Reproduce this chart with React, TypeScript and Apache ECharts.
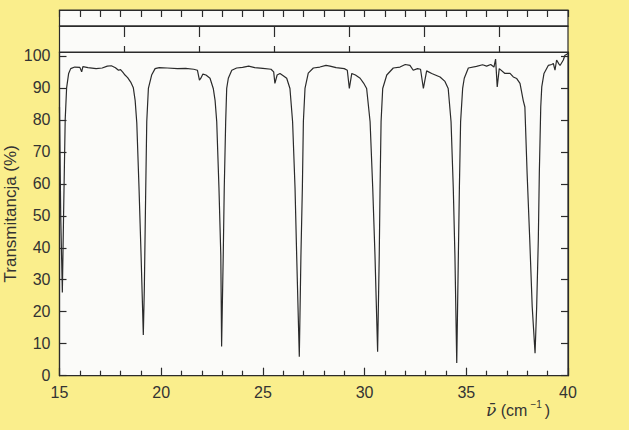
import React, { useEffect, useRef } from 'react';
import * as echarts from 'echarts';

// Wavenumber (cm^-1) and transmittance (%)
const wavenumber = [
  15.0, 15.06, 15.14, 15.2, 15.28, 15.35, 15.45, 15.55, 15.75, 16.0, 16.09, 16.15, 16.4, 16.8, 17.1, 17.35, 17.55, 17.75, 17.9, 18.0,
  18.12, 18.22, 18.35, 18.5, 18.63, 18.72, 18.8, 18.91, 19.01, 19.08, 19.12, 19.17, 19.24, 19.29, 19.37, 19.53, 19.7, 19.9, 20.3, 20.8,
  21.2, 21.6, 21.78, 21.88, 21.95, 22.05, 22.2, 22.4, 22.56, 22.65, 22.73, 22.84, 22.93, 22.97, 23.05, 23.1, 23.17, 23.22, 23.3, 23.47,
  23.71, 24.0, 24.3, 24.6, 25.0, 25.4, 25.53, 25.59, 25.7, 25.84, 26.0, 26.17, 26.33, 26.46, 26.58, 26.66, 26.79, 26.87, 26.94, 26.99,
  27.07, 27.23, 27.48, 27.8, 28.1, 28.3, 28.6, 29.0, 29.15, 29.25, 29.37, 29.55, 29.78, 29.95, 30.1, 30.27, 30.4, 30.51, 30.64, 30.72,
  30.76, 30.81, 30.89, 31.09, 31.41, 31.74, 32.0, 32.23, 32.39, 32.6, 32.75, 32.89, 33.05, 33.3, 33.71, 33.95, 34.11, 34.25, 34.36, 34.44,
  34.53, 34.61, 34.66, 34.72, 34.82, 34.9, 35.1, 35.5, 35.8, 36.0, 36.2, 36.36, 36.44, 36.52, 36.62, 36.9, 37.15, 37.31, 37.48, 37.64,
  37.8, 37.88, 37.99, 38.12, 38.24, 38.38, 38.46, 38.54, 38.59, 38.66, 38.71, 38.82, 39.03, 39.2, 39.28, 39.36, 39.44, 39.55, 39.61, 39.77,
  39.85, 39.95, 40.0,
];
const transmittance = [
  84, 50, 26, 50, 80, 90, 94.5, 96, 96.5, 96.4, 95.0, 96.6, 96.3, 96.0, 96.2, 96.8, 96.9, 96.3, 95.5, 95.7,
  94.8, 94.0, 93.2, 91.8, 90.0, 86.0, 79.0, 58.6, 37.7, 22, 12.7, 27, 58.6, 79.4, 89.8, 94, 96, 96.3, 96.2, 96.0,
  96.1, 95.8, 95.5, 92.4, 93.0, 94.3, 94.0, 93.0, 89.8, 86, 79.4, 58.6, 37.7, 9.1, 37.7, 58.6, 79.4, 89.8, 93, 95.5,
  96.2, 96.4, 96.8, 96.3, 96.1, 95.8, 95, 91.4, 94, 94.5, 93.8, 93, 89.8, 79.4, 58.6, 37.7, 5.9, 37.7, 58.6, 79.4,
  89.8, 94.6, 96.2, 96.5, 97.0, 96.8, 96.3, 96.0, 95.5, 89.8, 94.5, 94, 93, 91.5, 89.8, 79.4, 58.6, 37.7, 7.5, 37.7,
  58.6, 79.4, 89.8, 94, 96.2, 96.5, 97.3, 97, 95.5, 96, 95.8, 89.8, 95.3, 94.5, 93.4, 92, 89.8, 79.4, 58.6, 37.7,
  4, 37.7, 58.6, 79.4, 89.8, 93, 96.2, 96.7, 97.2, 96.8, 97.3, 96.5, 99, 90.3, 96, 94.5, 94.5, 93.4, 92.9, 91.4,
  86, 84, 63.2, 42.4, 21.6, 7, 21.6, 42.4, 63.2, 84, 90.3, 94.5, 97, 97.3, 97.6, 95.5, 98.7, 97.5, 97, 98.7,
  100.2, 100.5, 101,
];
const yTickValues = [0, 10, 20, 30, 40, 50, 60, 70, 80, 90, 100];
const upperScaleTicks = [18.2, 21.89, 25.55, 29.23, 32.92, 36.6];
const yTitle = 'Transmitancja (%)';

export default function App() {
  const ref = useRef<HTMLDivElement>(null);
  useEffect(() => {
    const chart = echarts.init(ref.current!, null, { renderer: 'svg' });
    const data = wavenumber.map((x, i) => [x, transmittance[i]]);
    const L = 59.5;
    const R = 61;
    const ink = '#2b2b2b';
    const plotBg = '#fbfbf9';
    const line = { color: ink, width: 1.2 };
    const axisLine = { show: true, onZero: false, lineStyle: line };
    const gridBase = {
      left: L, right: R, show: true, backgroundColor: plotBg, borderColor: ink, borderWidth: 1.2,
      containLabel: false, outerBoundsMode: 'none',
    };
    const hiddenY = (g: number) => ({ gridIndex: g, type: 'value', min: 0, max: 1, show: false });
    chart.setOption({
      animation: false,
      backgroundColor: '#FAEE8C',
      textStyle: { fontFamily: '"Liberation Sans", Arial, sans-serif' },
      grid: [
        { ...gridBase, top: 52, bottom: 54.3 },
        { ...gridBase, top: 10, height: 16 },
        { ...gridBase, top: 26, height: 26 },
      ],
      xAxis: [
        {
          gridIndex: 0, type: 'value', min: 15, max: 40, interval: 5, position: 'bottom',
          axisLine,
          axisTick: { show: true, inside: true, length: 8, lineStyle: line },
          minorTick: { show: true, splitNumber: 5, length: 5, lineStyle: line },
          splitLine: { show: false },
          axisLabel: { fontSize: 16, color: '#333', margin: 9 },
        },
        {
          gridIndex: 1, type: 'value', min: 15, max: 40, interval: 1, position: 'top',
          axisLine,
          axisTick: { show: true, inside: true, length: 7, lineStyle: line },
          axisLabel: { show: false }, splitLine: { show: false },
        },
        {
          gridIndex: 2, type: 'value', min: 15, max: 40, position: 'top',
          axisLine,
          axisTick: { show: true, inside: true, length: 11, lineStyle: line, customValues: upperScaleTicks },
          axisLabel: { show: false }, splitLine: { show: false },
        },
        {
          gridIndex: 2, type: 'value', min: 15, max: 40, position: 'bottom',
          axisLine,
          axisTick: { show: true, inside: true, length: 6, lineStyle: line, customValues: upperScaleTicks },
          axisLabel: { show: false }, splitLine: { show: false },
        },
      ],
      yAxis: [
        {
          gridIndex: 0, type: 'value', min: 0, max: 101.2, position: 'left',
          name: yTitle, nameLocation: 'middle', nameGap: 41, nameMoveOverlap: false,
          nameTextStyle: { fontSize: 17, color: '#333' },
          axisLine,
          axisTick: { show: true, inside: true, length: 7, lineStyle: line, customValues: yTickValues },
          axisLabel: { fontSize: 16, color: '#333', margin: 9, customValues: yTickValues },
          splitLine: { show: false },
        },
        {
          gridIndex: 0, type: 'value', min: 0, max: 101.2, position: 'right',
          axisLine,
          axisTick: { show: true, inside: true, length: 7, lineStyle: line, customValues: yTickValues },
          axisLabel: { show: false },
          splitLine: { show: false },
        },
        hiddenY(1),
        hiddenY(2),
      ],
      series: [
        {
          type: 'line',
          xAxisIndex: 0,
          yAxisIndex: 0,
          data,
          showSymbol: false,
          symbol: 'none',
          lineStyle: { color: ink, width: 1.2 },
          silent: true,
        },
      ],
      graphic: [
        {
          type: 'text',
          left: 486,
          top: 399,
          style: {
            text: '{nu|ν̄} (cm{sup|−1})',
            fill: '#333',
            font: '16px "Liberation Sans", Arial, sans-serif',
            rich: {
              nu: { fontFamily: '"DejaVu Serif", serif', fontStyle: 'italic', fontSize: 17, fill: '#333' },
              sup: { fontSize: 10, verticalAlign: 'top', fill: '#333', padding: [0, 3, 0, 3] },
            },
            lineHeight: 22,
          },
        },
      ],
    });
    return () => chart.dispose();
  }, []);
  return <div ref={ref} style={{ position: 'fixed', left: 0, top: 0, width: 629, height: 430 }} />;
}
